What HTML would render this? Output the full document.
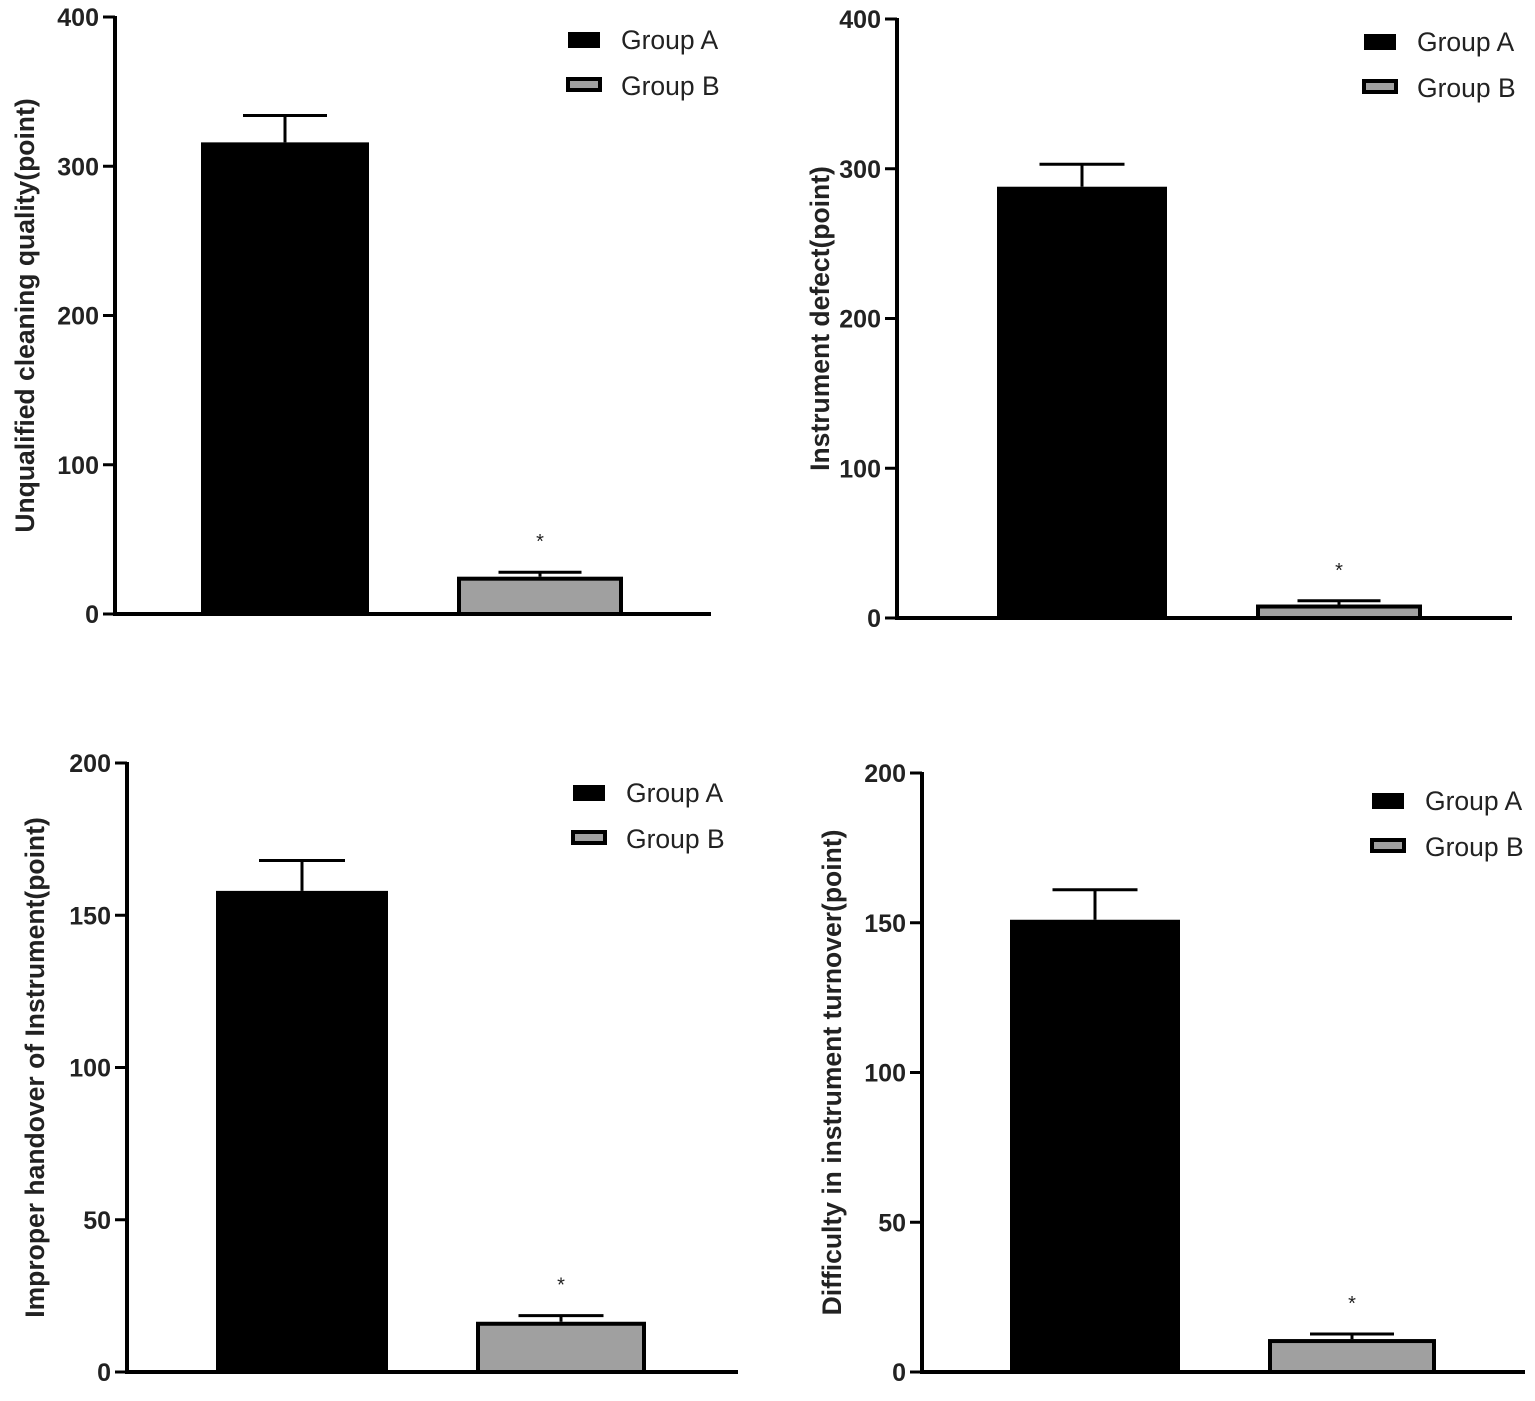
<!DOCTYPE html>
<html><head><meta charset="utf-8"><style>
html,body{margin:0;padding:0;background:#fff}
svg{display:block}
text{font-family:"Liberation Sans",Arial,sans-serif}
</style></head><body>
<svg id="c" width="1535" height="1401" viewBox="0 0 1535 1401" xmlns="http://www.w3.org/2000/svg"></svg>
<script>
const panelTitles = ["Unqualified cleaning quality(point)","Instrument defect(point)","Improper handover of Instrument(point)","Difficulty in instrument turnover(point)"];
const groups = ["Group A","Group B"];
const meansA = [316, 288, 158, 151];
const errA = [18, 15, 10, 10];
const meansB = [25, 9, 16.5, 11];
const errB = [3, 2.5, 2, 1.7];
const yMaxes = [400, 400, 200, 200];
const yTicks = [[0,100,200,300,400],[0,100,200,300,400],[0,50,100,150,200],[0,50,100,150,200]];
const layout = [
 {ax:115, y0:614, yTop:17, xEnd:711, barA:[201,369], barB:[457,623], leg:[566,40], titleX:25},
 {ax:897, y0:618, yTop:19, xEnd:1512, barA:[997,1167], barB:[1256,1422], leg:[1362,42], titleX:820},
 {ax:127, y0:1372, yTop:763, xEnd:738, barA:[216,388], barB:[476,646], leg:[571,793], titleX:35},
 {ax:922, y0:1372, yTop:773, xEnd:1525, barA:[1010,1180], barB:[1268,1436], leg:[1370,801], titleX:832}
];
const NS="http://www.w3.org/2000/svg";
const svg=document.getElementById('c');
function mk(tag,attrs,parent){const e=document.createElementNS(NS,tag);for(const k in attrs)e.setAttribute(k,attrs[k]);(parent||svg).appendChild(e);return e;}
layout.forEach((L,i)=>{
  const g=mk('g',{});
  
  
  const y=v=>L.y0-(v/yMaxes[i])*(L.y0-L.yTop);
  const ya=mk('line',{x1:L.ax,y1:L.yTop-1,x2:L.ax,y2:L.y0+2,stroke:'#000','stroke-width':4},g);
  
  
  const xa=mk('line',{x1:L.ax-2,y1:L.y0,x2:L.xEnd,y2:L.y0,stroke:'#000','stroke-width':4},g);
  
  
  yTicks[i].forEach(t=>{
    mk('line',{x1:L.ax-12,y1:y(t),x2:L.ax,y2:y(t),stroke:'#000','stroke-width':3},g);
    const tl=mk('text',{x:L.ax-16,y:y(t)+9,'text-anchor':'end','font-size':25,'font-weight':'bold',fill:'#222'},g);
    tl.textContent=t;
    
    
  });
  const midY=(L.y0+L.yTop)/2;
  const tt=mk('text',{x:L.titleX,y:midY,'text-anchor':'middle','font-size':26.5,'font-weight':'bold',fill:'#222',transform:`rotate(-90 ${L.titleX} ${midY})`,dy:9},g);
  tt.textContent=panelTitles[i];
  
  
  [[L.barA,meansA[i],errA[i],'#000','bar-group-a'],[L.barB,meansB[i],errB[i],'#a0a0a0','bar-group-b']].forEach(([bx,m,e,col,nm])=>{
    const cx=(bx[0]+bx[1])/2, w=bx[1]-bx[0];
    const el=mk('line',{x1:cx,y1:y(m),x2:cx,y2:y(m+e),stroke:'#000','stroke-width':3},g);
    
    
    const cap=mk('line',{x1:cx-w*0.25,y1:y(m+e),x2:cx+w*0.25,y2:y(m+e),stroke:'#000','stroke-width':3},g);
    
    
    const r=mk('rect',{x:bx[0]+2,y:y(m)+2,width:w-4,height:Math.max(0,L.y0-y(m)-2),fill:col,stroke:'#000','stroke-width':4},g);
    
    
    if(nm==='bar-group-b'){
      const s=mk('text',{x:cx,y:y(m+e)-24,'text-anchor':'middle','font-size':20,fill:'#222'},g);
      s.textContent='*';
      
      
    }
  });
  groups.forEach((gn,j)=>{
    const ly=L.leg[1]+j*46;
    const sw=mk('rect',{x:L.leg[0]+2,y:ly-7,width:32,height:j?11:14,fill:j?'#a0a0a0':'#000',stroke:'#000','stroke-width':j?4:0},g);
    if(!j){sw.setAttribute('y',ly-8);sw.setAttribute('height',16);}
    
    
    const lt=mk('text',{x:L.leg[0]+55,y:ly+9,'font-size':26.5,fill:'#222'},g);
    lt.textContent=gn;
    
    
  });
});
</script>
</body></html>
